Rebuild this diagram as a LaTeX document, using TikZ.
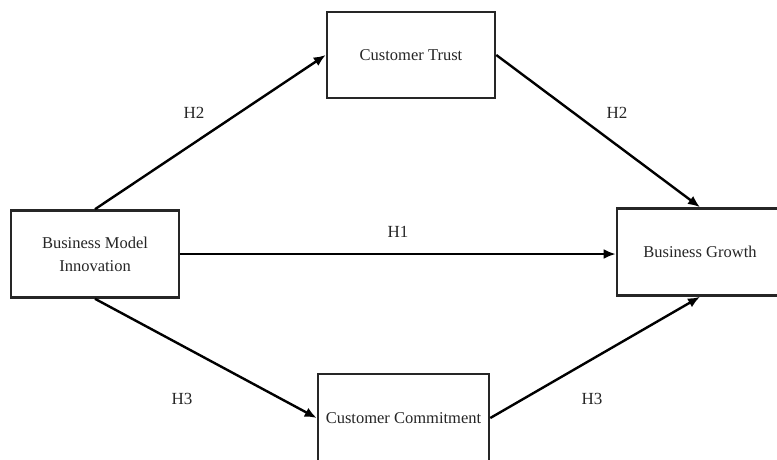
\documentclass[tikz,border=0pt]{standalone}
\usepackage{fontspec}
\setmainfont{Liberation Serif}
\usetikzlibrary{arrows.meta}
\begin{document}
\begin{tikzpicture}[x=1pt,y=-1pt,
  box/.style={draw=black!85, line width=2.6pt, fill=white, inner sep=0pt, align=center,
    font=\fontsize{16.5}{23}\selectfont, text=black!85},
  arr/.style={draw=black, line width=2.4pt, -{Latex[length=12pt,width=10pt]}},
  lab/.style={font=\fontsize{17}{20}\selectfont, text=black!85}]
\useasboundingbox (0,0) rectangle (777,459);
\node[box, minimum width=168pt, minimum height=86pt] (ct) at (411,55) {Customer Trust};
\node[box, minimum width=168pt, minimum height=87pt] (bmi) at (95,254) {Business Model\\Innovation};
\node[box, minimum width=166pt, minimum height=87pt] (bg) at (700,252) {Business Growth};
\node[box, minimum width=171pt, minimum height=88pt] (cc) at (403.5,418) {Customer Commitment};
\draw[arr] (bmi.north) -- (ct.west);
\draw[arr] (ct.east) -- (bg.north);
\draw[arr] (bmi.east) -- (bg.west |- bmi.east);
\draw[arr] (bmi.south) -- (cc.west);
\draw[arr] (cc.east) -- (bg.south);
\node[lab] (h2a) at (194,113) {H2};
\node[lab] (h2b) at (617,113) {H2};
\node[lab] (h1) at (398,232) {H1};
\node[lab] (h3a) at (182,399) {H3};
\node[lab] (h3b) at (592,399) {H3};
\end{tikzpicture}
\end{document}
